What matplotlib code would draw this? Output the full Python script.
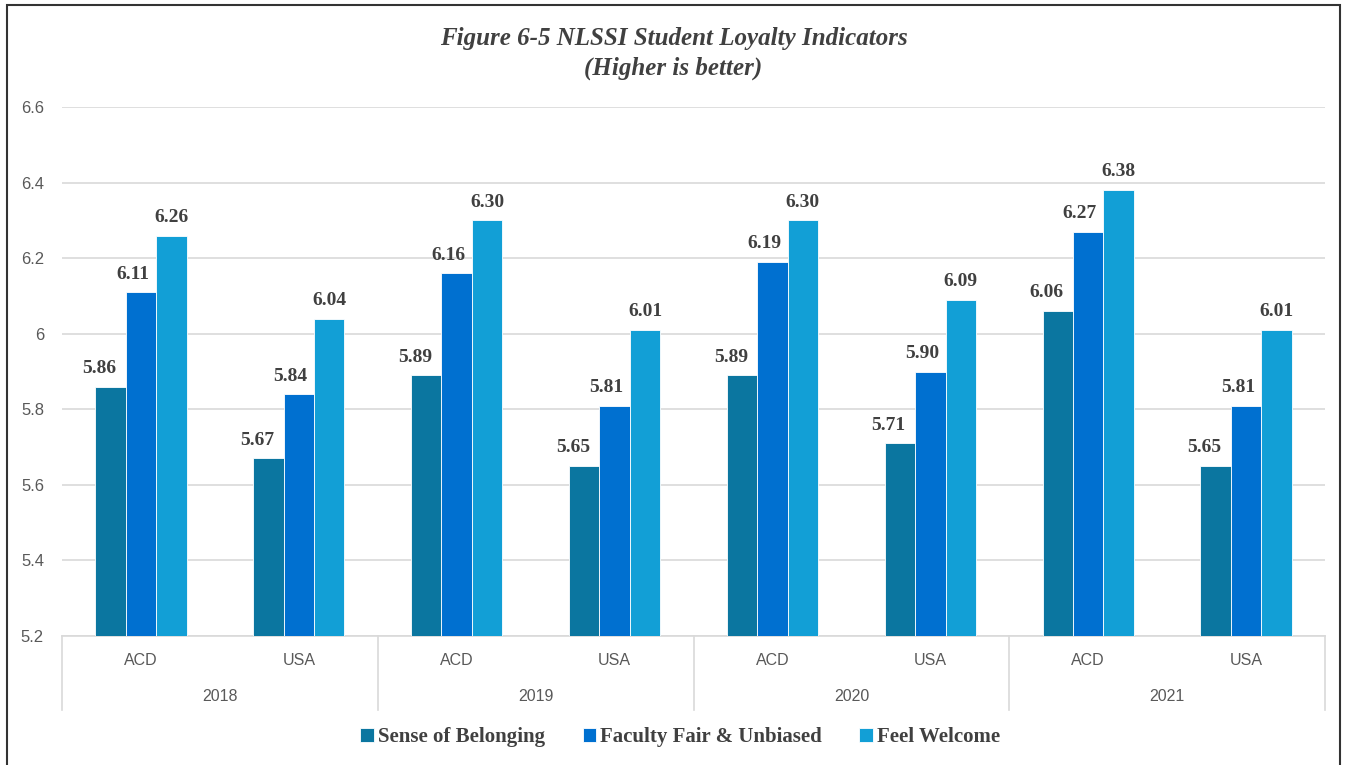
import numpy as np
import matplotlib.pyplot as plt
from matplotlib.patches import Rectangle
from matplotlib.transforms import blended_transform_factory

years = ["2018", "2019", "2020", "2021"]
groups = ["ACD", "USA"]
belonging = [5.86, 5.67, 5.89, 5.65, 5.89, 5.71, 6.06, 5.65]
faculty = [6.11, 5.84, 6.16, 5.81, 6.19, 5.90, 6.27, 5.81]
welcome = [6.26, 6.04, 6.30, 6.01, 6.30, 6.09, 6.38, 6.01]
series_names = ["Sense of Belonging", "Faculty Fair & Unbiased", "Feel Welcome"]
colors = ["#0b76a0", "#0070d0", "#129fd6"]

serif = ["Liberation Serif", "DejaVu Serif"]
sans = ["Liberation Sans", "DejaVu Sans"]
txtcol = "#404040"

fig = plt.figure(figsize=(13.47, 7.65), dpi=100)
ax = fig.add_axes([0.046, 0.1686, 0.9377, 0.6914])

# outer frame around the whole chart
fig.patches.append(Rectangle((7/1347, -0.01), 1333/1347, 1.0 - 5/765 + 0.01,
                             transform=fig.transFigure, fill=False,
                             edgecolor="#333333", lw=1.5))

x = np.arange(len(belonging))
w = 0.193
offs = [-w, 0, w]
lbl_shift = [-8, -6, 0]   # labels sit a bit left of their bars
for vals, off, col, name, sh in zip([belonging, faculty, welcome], offs, colors,
                                    series_names, lbl_shift):
    bars = ax.bar(x + off, np.array(vals) - 5.2, bottom=5.2, width=w, color=col,
                  edgecolor="white", linewidth=0.6, label=name, zorder=3)
    for b, v in zip(bars, vals):
        ax.annotate(f"{v:.2f}", (b.get_x() + b.get_width()/2, v),
                    xytext=(sh, 7), textcoords="offset points", ha="center",
                    va="bottom", fontsize=14, fontweight="bold",
                    family=serif, color=txtcol)

ax.set_xlim(-0.5, len(x) - 0.5)
ax.set_ylim(5.2, 6.6)
ax.set_yticks(np.arange(5.2, 6.61, 0.2))
ax.set_yticklabels(["5.2", "5.4", "5.6", "5.8", "6", "6.2", "6.4", "6.6"],
                   family=sans, fontsize=12, color="#595959")
ax.tick_params(axis="y", length=0, pad=13)
ax.set_xticks([])
ax.grid(axis="y", color="#d9d9d9", lw=1.2, zorder=0)
for s in ["top", "right", "left"]:
    ax.spines[s].set_visible(False)
ax.spines["bottom"].set_color("#d9d9d9")
ax.spines["bottom"].set_linewidth(1.2)

# two level category axis
tr = blended_transform_factory(ax.transData, ax.transAxes)
for i in x:
    ax.text(i, -0.047, groups[i % 2], transform=tr, ha="center", va="center",
            family=sans, fontsize=11.5, color="#595959")
for j, yr in enumerate(years):
    ax.text(2*j + 0.5, -0.114, yr, transform=tr, ha="center", va="center",
            family=sans, fontsize=11.5, color="#595959")
for k in range(len(years) + 1):
    ax.plot([2*k - 0.5]*2, [0, -0.14], transform=tr, color="#d9d9d9",
            lw=1.2, clip_on=False)

fig.text(0.5, 0.93, "Figure 6-5 NLSSI Student Loyalty Indicators\n(Higher is better)",
         ha="center", va="center", family=serif, fontsize=18, fontweight="bold",
         style="italic", color=txtcol, linespacing=1.35)

leg = fig.legend(loc="center", bbox_to_anchor=(0.505, 0.036), ncol=3, frameon=False,
                 prop={"family": serif, "size": 15, "weight": "bold"},
                 handlelength=0.65, handleheight=0.65, handletextpad=0.2,
                 columnspacing=1.8)
for t in leg.get_texts():
    t.set_color(txtcol)

fig.savefig("out.png", dpi=100)
